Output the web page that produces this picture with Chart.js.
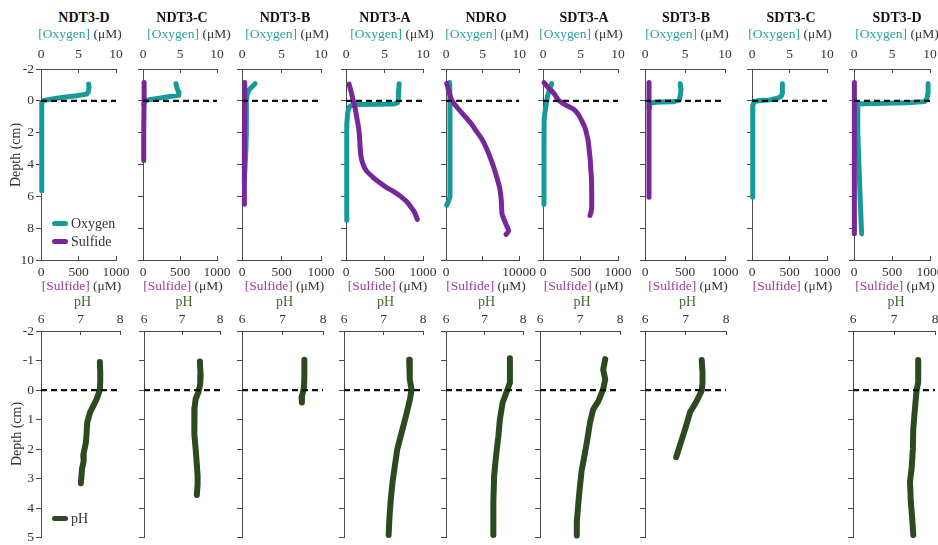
<!DOCTYPE html>
<html><head><meta charset="utf-8">
<script src="https://cdn.jsdelivr.net/npm/chart.js@4.4.1/dist/chart.umd.min.js"></script>
<style>
html,body{margin:0;padding:0;background:#fff;overflow:hidden;width:938px;height:545px;}
#wrap{position:relative;width:938px;height:545px;font-family:'Liberation Serif','Times New Roman',serif;color:#333;}
canvas{position:absolute;}
.lbl{position:absolute;transform:translate(-50%,-50%);white-space:nowrap;line-height:1;}
.title{font-weight:bold;font-size:14px;color:#111;}
.axl{font-size:13.5px;color:#333;}
.leg{position:absolute;font-size:14px;color:#333;white-space:nowrap;line-height:1;}
.sw{display:inline-block;width:16px;height:5px;border-radius:3px;vertical-align:middle;margin-right:3px;position:relative;top:-1px;}
</style></head><body><div id="wrap"></div>
<script>
// ---------------- DATA ----------------
const cores = ['NDT3-D','NDT3-C','NDT3-B','NDT3-A','NDRO','SDT3-A','SDT3-B','SDT3-C','SDT3-D'];
const depthTicksTop = [-2,0,2,4,6,8,10];
const depthTicksPH = [-2,-1,0,1,2,3,4,5];
const oxygenTicks = [0,5,10];
const oxygenTickLabels = ['0','5','10'];
const sulfideTicks = [0,500,1000];
const sulfideTickLabels = ['0','500','1000'];
const sulfideTicksNDRO = [0,5000,10000];
const sulfideTickLabelsNDRO = ['0','','10000'];
const pHTicks = [6,7,8];
const pHTickLabels = ['6','7','8'];
const sulfideMax = [1000,1000,1000,1000,10000,1000,1000,1000,1000];

// profiles: [value, depth (cm)]
const oxy_NDT3D = [[6.35,-1.05],[6.4,-0.8],[6.3,-0.55],[6.1,-0.42],[4.5,-0.3],[3.0,-0.22],[1.5,-0.12],[0.4,-0.03],[0.1,0.1],[0.1,1],[0.1,3],[0.1,5.65]];
const oxy_NDT3C = [[4.45,-1.08],[4.6,-0.8],[4.8,-0.55],[4.85,-0.35],[3.6,-0.27],[2.2,-0.17],[1.0,-0.09],[0.3,0],[0.1,0.2]];
const oxy_NDT3B = [[1.65,-1.08],[1.3,-0.9],[0.9,-0.7],[0.65,-0.4],[0.55,0],[0.55,1],[0.55,2],[0.5,3],[0.4,4],[0.3,5]];
const oxy_NDT3A = [[6.9,-1.08],[6.85,-0.6],[6.8,-0.1],[6.7,0.12],[6.2,0.2],[4,0.22],[2,0.23],[0.8,0.25],[0.4,0.4],[0.2,0.8],[0.1,1.5],[0.1,4],[0.1,7.5]];
const oxy_NDRO  = [[0.5,-1.15],[0.55,0],[0.55,2],[0.55,4],[0.55,6.0],[0.4,6.25],[0.1,6.55]];
const oxy_SDT3A = [[1.15,-1.08],[0.85,-0.65],[0.6,-0.3],[0.5,0],[0.3,0.6],[0.15,1.2],[0.13,3],[0.13,5],[0.13,6.5]];
const oxy_SDT3B = [[4.4,-1.08],[4.5,-0.7],[4.4,-0.3],[4.3,-0.05],[3.5,0.06],[2,0.08],[1.0,0.1],[0.6,0.2],[0.5,0.5]];
const oxy_SDT3C = [[4.05,-1.08],[4.05,-0.5],[3.9,-0.3],[3.5,-0.18],[2.4,-0.06],[1.1,-0.02],[0.3,0.04],[0.1,0.3],[0.1,2],[0.1,4],[0.1,6.05]];
const oxy_SDT3D = [[9.75,-1.08],[9.75,-0.5],[9.6,-0.15],[9.3,0.05],[7,0.12],[4,0.15],[1,0.18],[0.4,0.2],[0.5,2],[0.65,4],[0.8,6],[1.0,8.35]];

const sul_NDT3C = [[15,-1.15],[15,0],[12,1],[10,2],[10,3],[10,3.75]];
const sul_NDT3B = [[35,-1.15],[35,0],[30,2],[30,4],[30,6.5]];
const sul_NDT3A = [[40,-1.05],[70,-0.5],[95,0],[120,0.5],[140,1.05],[160,1.6],[173,2.1],[182,2.8],[192,3.4],[215,3.9],[265,4.4],[355,4.82],[440,5.15],[528,5.45],[620,5.7],[701,5.97],[780,6.3],[840,6.65],[890,7.0],[926,7.45]];
const sul_NDRO  = [[100,-1.1],[400,-0.6],[770,-0.05],[1500,0.4],[2340,0.85],[3300,1.35],[4150,1.9],[4900,2.4],[5500,2.95],[6000,3.5],[6400,4.0],[6750,4.5],[7070,5.0],[7350,5.5],[7530,6.1],[7600,6.6],[7660,7.1],[8200,7.75],[8560,8.15],[8400,8.3],[8200,8.4]];
const sul_SDT3A = [[13,-1.15],[75,-0.8],[138,-0.52],[205,-0.05],[300,0.25],[405,0.52],[470,0.85],[516,1.25],[560,1.7],[583,2.1],[605,2.6],[617,3.15],[630,3.7],[636,4.2],[645,4.8],[649,5.45],[650,6.1],[649,6.7],[640,7.0],[627,7.2]];
const sul_SDT3B = [[50,-1.15],[50,0],[50,2],[50,4],[50,6.05]];
const sul_SDT3D = [[5,-1.15],[5,0],[5,2],[5,4],[5,6],[5,8.35]];

const pH_NDT3D = [[7.49,-0.95],[7.5,-0.6],[7.5,-0.3],[7.49,0],[7.41,0.3],[7.24,0.76],[7.17,1.1],[7.14,1.75],[7.07,2.2],[7.08,2.4],[7.04,2.65],[7.01,3.15]];
const pH_NDT3C = [[7.47,-0.97],[7.49,-0.5],[7.48,-0.2],[7.43,0.08],[7.36,0.3],[7.33,0.6],[7.32,1.0],[7.33,1.5],[7.36,2.0],[7.39,2.5],[7.41,2.9],[7.41,3.2],[7.39,3.55]];
const pH_NDT3B = [[7.54,-1.03],[7.54,-0.5],[7.53,-0.1],[7.5,0.1],[7.47,0.25],[7.48,0.42]];
const pH_NDT3A = [[7.65,-1.03],[7.66,-0.7],[7.67,-0.36],[7.71,-0.02],[7.67,0.31],[7.57,0.87],[7.46,1.43],[7.35,1.99],[7.29,2.54],[7.23,3.1],[7.18,3.77],[7.15,4.33],[7.13,4.9]];
const pH_NDRO  = [[7.66,-1.08],[7.66,-0.6],[7.66,-0.25],[7.58,0.04],[7.47,0.43],[7.4,0.99],[7.36,1.56],[7.3,2.23],[7.25,2.9],[7.23,3.8],[7.23,4.9]];
const pH_SDT3A = [[7.63,-1.05],[7.58,-0.69],[7.63,-0.36],[7.58,-0.03],[7.46,0.37],[7.33,0.65],[7.25,1.1],[7.17,1.78],[7.08,2.45],[7.04,2.73],[7.0,3.24],[6.96,3.8],[6.92,4.47],[6.92,4.92]];
const pH_SDT3B = [[7.4,-1.02],[7.42,-0.6],[7.42,-0.26],[7.4,0.02],[7.28,0.36],[7.11,0.76],[6.99,1.32],[6.86,1.88],[6.77,2.27]];
const pH_SDT3D = [[7.59,-1.02],[7.59,-0.6],[7.59,-0.26],[7.55,0.02],[7.51,0.64],[7.47,1.32],[7.46,1.99],[7.43,2.66],[7.39,3.1],[7.41,3.77],[7.45,4.45],[7.47,4.9]];

const oxygenProfiles = [oxy_NDT3D, oxy_NDT3C, oxy_NDT3B, oxy_NDT3A, oxy_NDRO, oxy_SDT3A, oxy_SDT3B, oxy_SDT3C, oxy_SDT3D];
const sulfideProfiles = [null, sul_NDT3C, sul_NDT3B, sul_NDT3A, sul_NDRO, sul_SDT3A, sul_SDT3B, null, sul_SDT3D];
const pHProfiles = [pH_NDT3D, pH_NDT3C, pH_NDT3B, pH_NDT3A, pH_NDRO, pH_SDT3A, pH_SDT3B, null, pH_SDT3D];

// ---------------- LAYOUT / STYLE ----------------
const topLeft  = [41,143,242,346,446,543,645,752,854];
const topWidth = [75,74,79,77,74,75,80,75,76];
const phLeft   = [41,144,242,344,446,540,645,null,853];
const phWidth  = [79,76,81,79,77,80,81,null,82];
const titleX   = [84,182,285,385,486,584,686,791,897];
const oxyLabelX= [80,189,287,392,487,581,687,790,897];

const TEAL='#179a9a', PURPLE='#76289a', GREEN='#2c4a1d', AXIS='#4a4a4a', TXT='#333';
const OXY_TXT='#2aa0a0', SUL_TXT='#9a3c9c', PH_TXT='#3d6b2c';
const FONT = {family:"'Liberation Serif','Times New Roman',serif", size:13.5};
const Y_W = 40;

const wrap = document.getElementById('wrap');
const toXY = arr => arr.map(p => ({x:p[0], y:p[1]}));
const fixedTicks = vals => s => { s.ticks = vals.map(v => ({value:v})); };

function makeCanvas(left, top, w, h){
  const c = document.createElement('canvas');
  c.width = w; c.height = h;
  c.style.left = left+'px'; c.style.top = top+'px';
  c.style.width = w+'px'; c.style.height = h+'px';
  wrap.appendChild(c);
  return c;
}
function yScale(min, max, ticks, showLabels){
  return {type:'linear', position:'left', reverse:true, min, max,
    afterBuildTicks: fixedTicks(ticks),
    afterFit: s => { s.width = Y_W; },
    ticks:{color: showLabels ? TXT : 'rgba(0,0,0,0)', font:FONT, padding:2, autoSkip:false},
    grid:{drawOnChartArea:false, drawTicks:true, tickLength:5, color:AXIS},
    border:{display:true, color:AXIS, width:1}};
}
function xScale(pos, min, max, ticks, labels, height, padding){
  return {type:'linear', position:pos, min, max,
    afterBuildTicks: fixedTicks(ticks),
    afterFit: s => { s.height = height; },
    ticks:{color:TXT, font:FONT, padding, maxRotation:0, autoSkip:false, callback:(v,i) => labels[i]},
    grid:{drawOnChartArea:false, drawTicks:true, tickLength:-4, color:AXIS},
    border:{display:true, color:AXIS, width:1}};
}
function lineDs(data, xAxisID, color, width, order, extra){
  return Object.assign({data: toXY(data), xAxisID, yAxisID:'y', borderColor:color, backgroundColor:color,
    borderWidth:width, pointRadius:0, pointHoverRadius:0, showLine:true, fill:false, tension:0,
    borderCapStyle:'round', borderJoinStyle:'round', clip:false, order}, extra || {});
}
function label(html, x, y, cls, style){
  const d = document.createElement('div');
  d.className = 'lbl ' + (cls||'');
  d.innerHTML = html;
  d.style.left = x+'px'; d.style.top = y+'px';
  Object.assign(d.style, style || {});
  wrap.appendChild(d);
}
function chart(canvas, datasets, scales, padR, padB){
  return new Chart(canvas, {type:'scatter', data:{datasets},
    options:{responsive:false, animation:false, devicePixelRatio:1, events:[],
      layout:{padding:{left:0, right:padR, top:0, bottom:padB}},
      plugins:{legend:{display:false}, tooltip:{enabled:false}},
      scales}});
}
const DASH = {borderDash:[6,4], borderCapStyle:'butt'};

// ---------------- TOP ROW: oxygen & sulfide ----------------
const TOP_CANVAS_Y = 40, TOP_AREA_Y = 69, TOP_AREA_B = 260;
cores.forEach((core, i) => {
  const L = topLeft[i], W = topWidth[i];
  const xTopH = TOP_AREA_Y - TOP_CANVAS_Y, xBotH = 22, padR = 24;
  const h = xTopH + (TOP_AREA_B - TOP_AREA_Y) + xBotH;
  const cv = makeCanvas(L - Y_W, TOP_CANVAS_Y, Y_W + W + padR, h);
  const sMax = sulfideMax[i];
  const datasets = [lineDs([[0,0],[10,0]], 'xO', '#111', 2.3, 1, DASH)];
  if (sulfideProfiles[i]) datasets.push(lineDs(sulfideProfiles[i], 'xS', PURPLE, 5, 2, {tension:0.25}));
  datasets.push(lineDs(oxygenProfiles[i], 'xO', TEAL, 5, 3));
  const sT = sMax === 10000 ? sulfideTicksNDRO : sulfideTicks;
  const sL = sMax === 10000 ? sulfideTickLabelsNDRO : sulfideTickLabels;
  chart(cv, datasets, {
    y: yScale(-2, 10, depthTicksTop, i === 0),
    xO: xScale('top', 0, 10, oxygenTicks, oxygenTickLabels, xTopH, 10),
    xS: xScale('bottom', 0, sMax, sT, sL, xBotH, 8)
  }, padR, 0);
  label(core, titleX[i], 18, 'title');
  label('<span style="color:'+OXY_TXT+'">[Oxygen]</span> (\u03bcM)', oxyLabelX[i], 34, 'axl');
  label('<span style="color:'+SUL_TXT+'">[Sulfide]</span> (\u03bcM)', L + W/2 + 3, 286, 'axl');
});

// ---------------- BOTTOM ROW: pH ----------------
const PH_CANVAS_Y = 305, PH_AREA_Y = 331, PH_AREA_B = 540;
cores.forEach((core, i) => {
  if (!pHProfiles[i]) return;
  const L = phLeft[i], W = phWidth[i];
  const xTopH = PH_AREA_Y - PH_CANVAS_Y, padR = 14, padB = 8;
  const h = xTopH + (PH_AREA_B - PH_AREA_Y) + padB;
  const cv = makeCanvas(L - Y_W, PH_CANVAS_Y, Y_W + W + padR, h);
  const datasets = [
    lineDs([[6,0],[8,0]], 'xP', '#111', 2.3, 1, DASH),
    lineDs(pHProfiles[i], 'xP', GREEN, 6, 2)
  ];
  chart(cv, datasets, {
    y: yScale(-2, 5, depthTicksPH, i === 0),
    xP: xScale('top', 6, 8, pHTicks, pHTickLabels, xTopH, 7)
  }, padR, padB);
  label('pH', L + W/2 + 2, 302, 'axl', {color:PH_TXT, fontSize:'14px'});
});

// axis titles
label('Depth (cm)', 16, 155, 'axl', {transform:'translate(-50%,-50%) rotate(-90deg)', fontSize:'14px'});
label('Depth (cm)', 17, 434, 'axl', {transform:'translate(-50%,-50%) rotate(-90deg)', fontSize:'14px'});

// legends
function legend(x, y, color, text){
  const d = document.createElement('div');
  d.className = 'leg';
  d.style.left = x+'px'; d.style.top = (y-7)+'px';
  d.innerHTML = '<span class="sw" style="background:'+color+'"></span>' + text;
  wrap.appendChild(d);
}
legend(52, 224, TEAL, 'Oxygen');
legend(52, 242, PURPLE, 'Sulfide');
legend(52, 519, GREEN, 'pH');
</script>
</body></html>
